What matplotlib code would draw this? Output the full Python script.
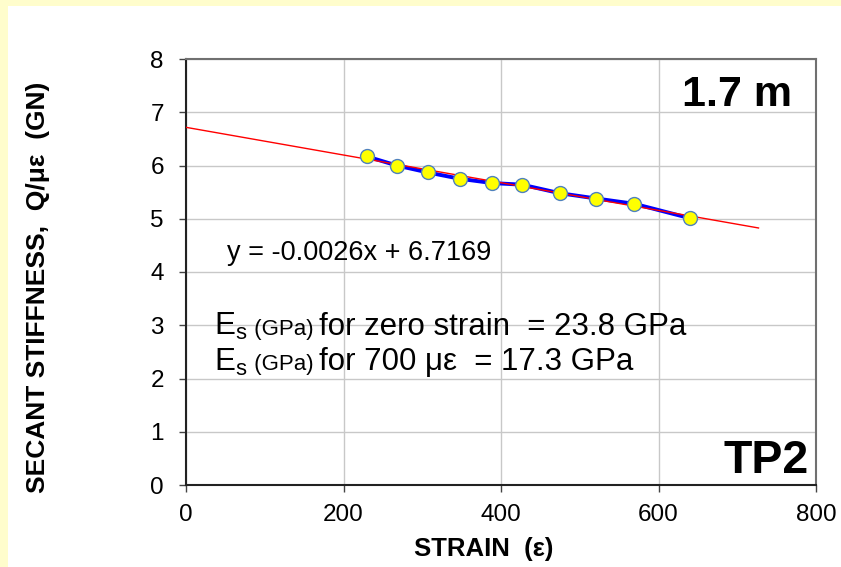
import numpy as np
import matplotlib
matplotlib.use("Agg")
import matplotlib.pyplot as plt
from matplotlib.patches import Rectangle
from matplotlib.offsetbox import TextArea, HPacker, AnnotationBbox

plt.rcParams['font.family'] = ['Liberation Sans', 'DejaVu Sans']
plt.rcParams['mathtext.fontset'] = 'custom'
plt.rcParams['mathtext.rm'] = 'Liberation Sans'

# measured secant stiffness vs strain
strain = [229.5, 267.7, 307, 348, 389, 426.7, 474.6, 521, 569.5, 640]
stiffness = [6.17, 6.00, 5.87, 5.75, 5.67, 5.64, 5.48, 5.38, 5.28, 5.01]

# linear trendline as printed on the chart
slope, intercept = -0.0026, 6.7169
trend_x = np.array([0, 727])

xticks = [0, 200, 400, 600, 800]
yticks = [0, 1, 2, 3, 4, 5, 6, 7, 8]

fig = plt.figure(figsize=(8.41, 5.67), dpi=100, facecolor='#FFFDCC')
# white chart area inside the yellow border
fig.patches.append(Rectangle((8/841, 0), 1, 1 - 6/567, transform=fig.transFigure,
                             facecolor='white', edgecolor='none', zorder=-10))

ax = fig.add_axes([186/841, 1 - 485/567, 630/841, 426/567])
ax.set_xlim(0, 800)
ax.set_ylim(0, 8)
ax.set_xticks(xticks)
ax.set_yticks(yticks)
ax.tick_params(labelsize=17.5, direction='out', length=5, width=1, color='#444444')
ax.tick_params(axis='y', pad=11)
ax.tick_params(axis='x', pad=9)
ax.grid(True, color='#C8C8C8', linewidth=1)
ax.set_axisbelow(True)
for s in ['left', 'bottom']:
    ax.spines[s].set_color('#222222')
    ax.spines[s].set_linewidth(1.5)
for s in ['top', 'right']:
    ax.spines[s].set_color('#707070')
    ax.spines[s].set_linewidth(1.5)

ax.plot(trend_x, slope * trend_x + intercept, color='red', lw=1, zorder=3)
ax.plot(strain, stiffness, color='blue', lw=2.8, zorder=2)
ax.plot(strain, stiffness, 'o', ms=10, markerfacecolor='#FFFF00',
        markeredgecolor='#4F81BD', markeredgewidth=1, zorder=4)

ax.text(52.5, 4.23, 'y = -0.0026x + 6.7169', fontsize=19.5, va='baseline')
ax.text(769.5, 7.12, '1.7 m', fontsize=31, fontweight='bold', ha='right', va='baseline')
ax.text(791, 0.225, 'TP2', fontsize=33.5, fontweight='bold', ha='right', va='baseline')

rows = [('for zero strain  = 23.8 GPa', 2.97),
        ('for 700 \u03bc\u03b5  = 17.3 GPa', 2.31)]
for txt, ypos in rows:
    box = HPacker(children=[TextArea(r'$\mathregular{E_s}$', textprops=dict(fontsize=22.5)),
                            TextArea(' (GPa) ', textprops=dict(fontsize=16)),
                            TextArea(txt, textprops=dict(fontsize=22.5))],
                  align='baseline', pad=0, sep=0)
    ab = AnnotationBbox(box, (36, ypos), xycoords='data', box_alignment=(0, 0.5),
                        frameon=False, pad=0)
    ax.add_artist(ab)

fig.text(484/841, 1 - 556/567, 'STRAIN  (\u03b5)', fontsize=18.5, fontweight='bold',
         ha='center', va='baseline')
fig.text(38/841, 1 - 287/567, 'SECANT STIFFNESS,  Q/\u03bc\u03b5  (GN)', fontsize=19,
         fontweight='bold', rotation=90, ha='center', va='center')

fig.savefig('out.png', dpi=100, facecolor=fig.get_facecolor())
